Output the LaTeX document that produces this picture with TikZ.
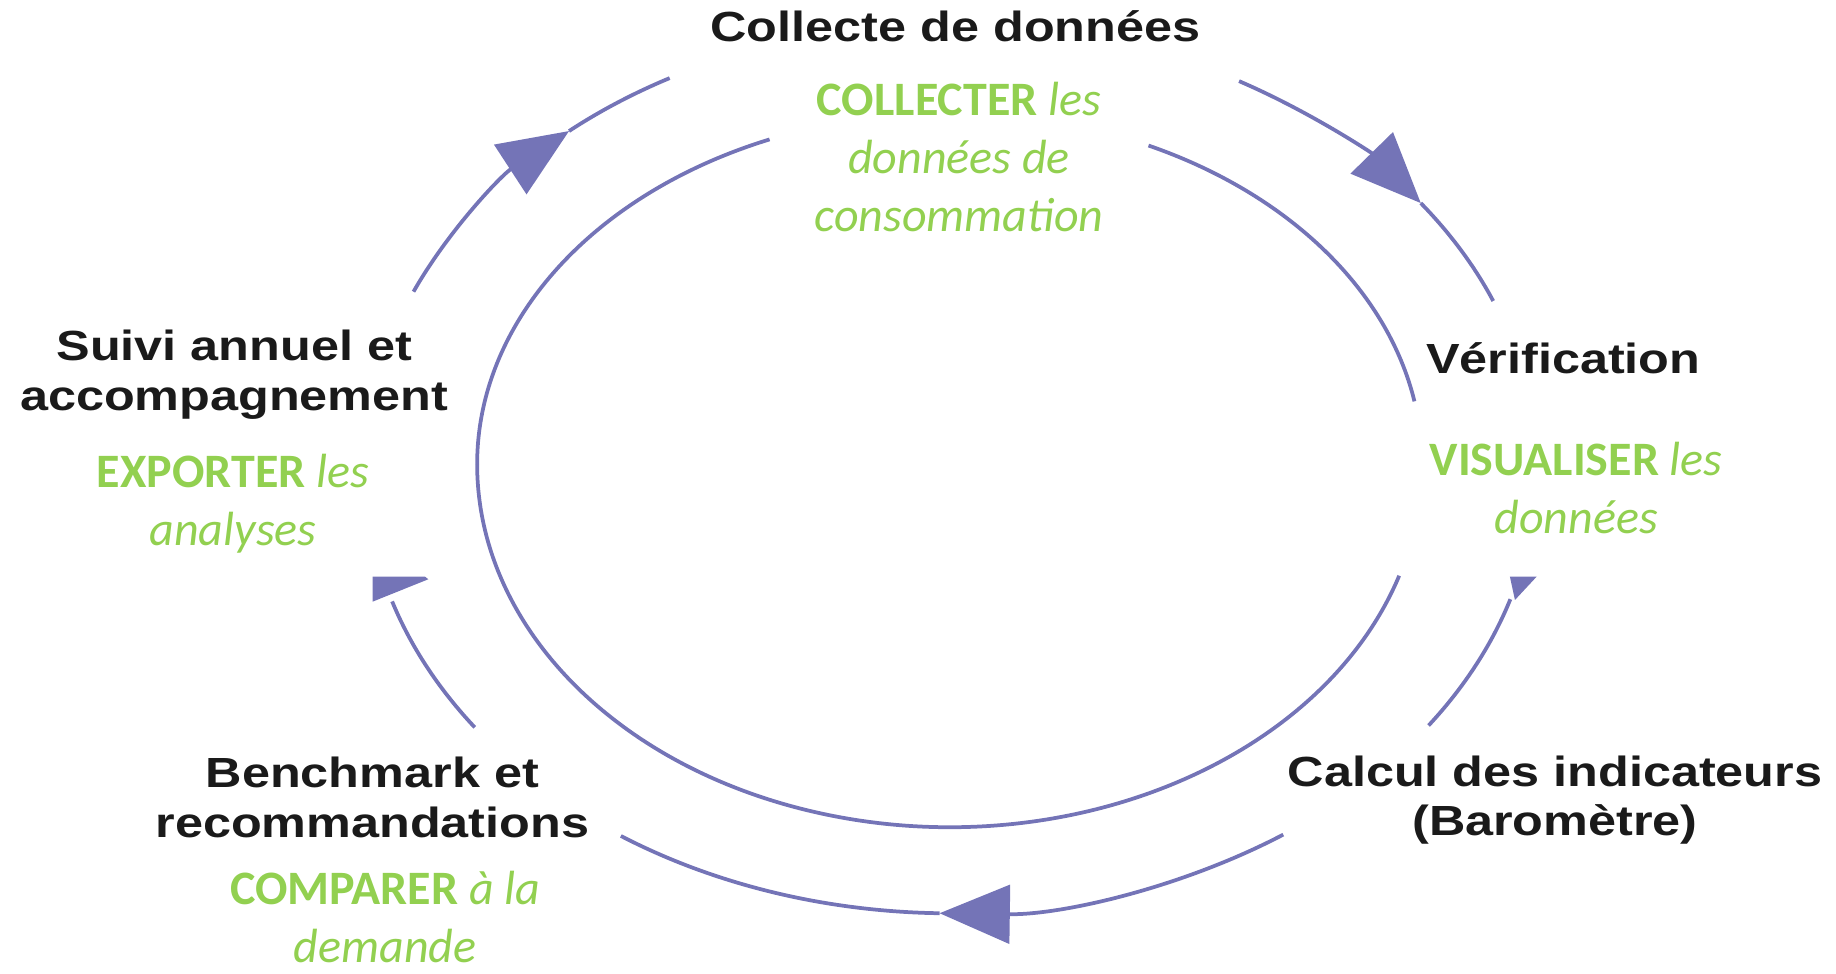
\documentclass[tikz,border=0pt]{standalone}
\usepackage{fontspec}
\newfontfamily\labfont[FakeStretch=1.195]{Liberation Sans}
\newfontfamily\grnfont{Carlito}
\usetikzlibrary{arrows.meta}
\definecolor{cyc}{RGB}{116,116,183}
\definecolor{grn}{RGB}{146,208,80}
\definecolor{ink}{RGB}{26,26,26}
\tikzset{
  lab/.style={font=\labfont\bfseries\fontsize{36}{42}\selectfont, text=ink, align=center, inner sep=0pt},
  grnlab/.style={font=\grnfont\fontsize{41}{49.5}\selectfont, text=grn, align=center, inner sep=0pt},
  cycline/.style={draw=cyc, line width=3.2pt},
  cycarrow/.style={cycline, -{Triangle[length=60pt,width=50pt]}},
  cychead/.style={fill=cyc},
}
\begin{document}
\begin{tikzpicture}[x=1pt,y=-1pt]
\useasboundingbox (0,0) rectangle (1568,831);
% centres
\coordinate (O) at (812,400);
\coordinate (I) at (811,396.4);
% labels
\node[lab] (collecte) at (816,22) {Collecte de données};
\node[lab] (verif) at (1335,306) {Vérification};
\node[lab] (calcul) at (1328,683) {Calcul des indicateurs\\(Baromètre)};
\node[lab] (bench) at (318,681) {Benchmark et\\recommandations};
\node[lab] (suivi) at (200,320) {Suivi annuel et\\accompagnement};
\node[grnlab] (collecter) at (819,134) {\textbf{COLLECTER} \textit{les}\\\textit{données de}\\\textit{consommation}};
\node[grnlab] (visu) at (1346,416.5) {\textbf{VISUALISER} \textit{les}\\\textit{données}};
\node[grnlab] (export) at (199,430) {\textbf{EXPORTER} \textit{les}\\\textit{analyses}};
\node[grnlab] (compar) at (329,783) {\textbf{COMPARER} \textit{à la}\\\textit{demande}};
% inner ellipse
\path (I) ++(-65.1:403.5 and 300) coordinate (in1s);
\path (I) ++(17.9:403.5 and 310) coordinate (in2s);
\path (I) ++(180:403.5 and 310) coordinate (inL);
\draw[cycline] (in1s) arc[start angle=-65.1, end angle=-10.3, x radius=403.5, y radius=300];
\draw[cycline] (in2s) arc[start angle=17.9, end angle=180, x radius=403.5, y radius=310];
\draw[cycline] (inL) arc[start angle=180, end angle=247.6, x radius=403.5, y radius=300];
% outer arcs: top-left (Suivi -> Collecte)
\path (O) ++(203.4:500 and 380) coordinate (tlS);
\path (O) ++(229.3:500 and 380) coordinate (tlM);
\draw[cycarrow] (tlS) arc[start angle=203.4, end angle=229.3, x radius=500, y radius=380];
\draw[cycline] (tlM) arc[start angle=229.3, end angle=241.3, x radius=500, y radius=380];
% top-right (Collecte -> Verification)
\path (O) ++(299.5:500 and 380) coordinate (trS);
\path (O) ++(323.4:500 and 380) coordinate (trM);
\draw[cycarrow] (trS) arc[start angle=299.5, end angle=323.4, x radius=500, y radius=380];
\draw[cycline] (trM) arc[start angle=323.4, end angle=337.9, x radius=500, y radius=380];
% right-bottom (Calcul -> Verification)
\path (O) ++(35.3:500 and 380) coordinate (rbS);
\draw[cycline] (rbS) arc[start angle=35.3, end angle=17.1, x radius=500, y radius=380];
\fill[cychead] (1289.5,492.5) coordinate (rh1) -- (1312.3,492.5) coordinate (rh2) -- (1293.8,512.4) coordinate (rh3) -- cycle;
% bottom (Calcul -> Benchmark)
\path (O) ++(55.4:500 and 380) coordinate (bS);
\path (O) ++(91.1:500 and 380) coordinate (bM);
\draw[cycarrow] (bS) arc[start angle=55.4, end angle=91.1, x radius=500, y radius=380];
\draw[cycline] (bM) arc[start angle=91.1, end angle=124.3, x radius=500, y radius=380];
% bottom-left (Benchmark -> Suivi)
\path (O) ++(144.4:500 and 380) coordinate (blS);
\draw[cycline] (blS) arc[start angle=144.4, end angle=162.6, x radius=500, y radius=380];
\fill[cychead] (318.3,492.5) coordinate (lh1) -- (363,492.5) coordinate (lh2) -- (365.8,494.7) coordinate (lh3) -- (318.3,513.8) coordinate (lh4) -- cycle;
\end{tikzpicture}
\end{document}
